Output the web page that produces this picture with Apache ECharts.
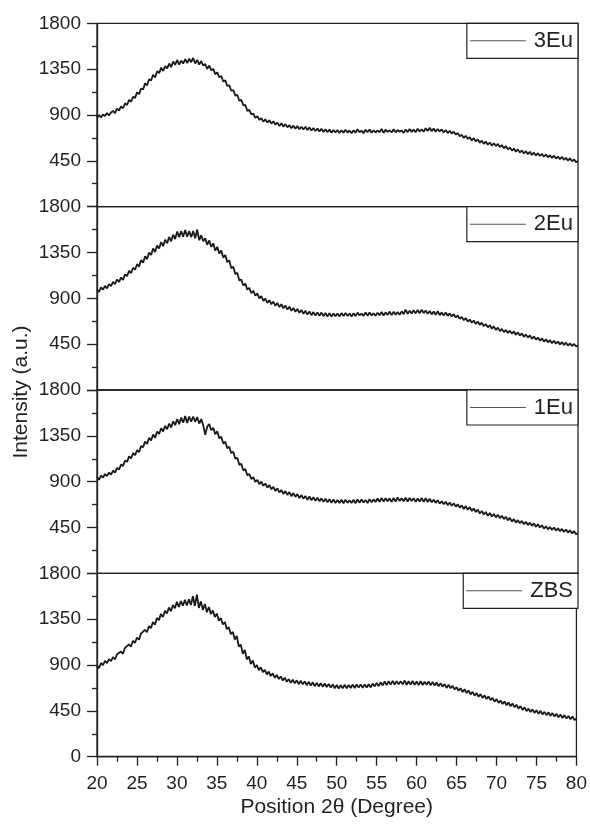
<!DOCTYPE html>
<html>
<head>
<meta charset="utf-8">
<script src="https://cdn.jsdelivr.net/npm/echarts@6/dist/echarts.min.js"></script>
<style>
html,body{margin:0;padding:0;background:#fff;}
#chart{width:590px;height:830px;}
</style>
</head>
<body>
<div id="chart"></div>
<script>
// Sampling grid of the scans (2θ, degrees)
const xStart = 20;
const xStep = 0.25;

// Sample names (top to bottom)
const sampleNames = ['3Eu', '2Eu', '1Eu', 'ZBS'];

// Axis ticks
const yTicks = [0, 450, 900, 1350, 1800];
const xTicks = [20, 25, 30, 35, 40, 45, 50, 55, 60, 65, 70, 75, 80];

// Intensities, one value every 0.25° from 20° to 80°
const int3Eu = [
 872,898,876,905, 890,918,896,925, 940,918,962,944, 985,966,1015,998, 1048,1030,1078,1068,
 1122,1105,1160,1150, 1210,1192,1250,1240, 1295,1268,1330,1310, 1365,1332,1380,1358, 1405,1370,1425,1392,
 1440,1395,1432,1405, 1448,1410,1452,1418, 1460,1405,1440,1395, 1430,1385,1400,1352, 1385,1340,1352,1300,
 1318,1270,1282,1228, 1240,1185,1190,1138, 1145,1090,1098,1040, 1048,995,998,940, 950,905,915,872,
 888,852,868,835, 858,825,848,815, 838,805,825,792, 818,785,810,778, 800,770,795,765,
 792,760,785,758, 784,752,778,748, 772,742,768,738, 765,732,760,730, 758,725,752,728,
 752,722,750,726, 755,728,748,720, 750,725,760,730, 746,720,755,732, 758,726,750,728,
 748,730,762,724, 755,735,750,728, 760,730,752,736, 748,724,758,732, 762,734,756,730,
 765,738,760,735, 770,742,775,740, 768,735,762,738, 758,728,752,722, 745,718,735,708,
 722,690,705,675, 696,665,682,650, 672,640,660,628, 648,616,640,608, 630,600,622,595,
 615,585,605,572, 595,562,580,550, 570,540,562,532, 552,522,545,515, 538,508,530,502,
 525,498,518,490, 512,484,505,478, 500,472,492,466, 488,460,480,452, 475,445,465,436,
 448
];
const int2Eu = [
 990,962,1008,985, 1022,998,1040,1020, 1062,1040,1085,1060, 1105,1080,1135,1118, 1170,1148,1200,1182,
 1235,1212,1275,1250, 1312,1285,1350,1325, 1390,1355,1418,1390, 1452,1412,1475,1440, 1502,1460,1525,1482,
 1555,1500,1560,1505, 1570,1505,1560,1500, 1560,1490,1575,1470, 1520,1460,1490,1425, 1468,1405,1440,1368,
 1405,1340,1370,1300, 1325,1255,1272,1195, 1210,1138,1150,1075, 1085,1025,1045,985, 1002,950,975,925,
 948,900,922,875, 898,855,882,842, 868,826,855,815, 842,802,830,790, 818,778,805,768,
 795,758,786,748, 778,740,772,735, 765,730,762,728, 760,725,756,722, 755,720,752,724,
 752,722,755,726, 756,728,750,722, 754,725,760,732, 750,728,762,730, 760,732,752,728,
 758,735,765,732, 762,738,770,735, 768,740,765,738, 772,745,790,748, 778,750,782,752,
 785,752,788,755, 780,748,776,742, 770,738,775,735, 762,732,760,728, 752,722,745,712,
 732,698,718,685, 706,672,692,660, 682,648,672,638, 662,626,648,615, 636,602,625,590,
 612,578,600,568, 590,560,582,552, 575,542,565,535, 555,522,545,515, 536,502,525,495,
 515,484,506,476, 497,468,490,460, 482,455,476,448, 470,442,465,436, 458,432,452,428,
 440
];
const int1Eu = [
 945,918,960,940, 975,955,990,970, 1008,988,1035,1020, 1068,1055,1108,1095, 1148,1128,1180,1160,
 1210,1190,1250,1238, 1295,1270,1330,1305, 1362,1332,1392,1368, 1425,1392,1448,1415, 1470,1432,1492,1455,
 1515,1465,1530,1478, 1545,1475,1540,1490, 1540,1488,1535,1470, 1515,1455,1360,1440, 1465,1405,1428,1365,
 1395,1325,1342,1275, 1292,1228,1242,1180, 1195,1125,1135,1065, 1075,1010,1025,962, 975,925,945,898,
 918,875,900,860, 882,842,868,825, 850,808,835,795, 818,780,808,770, 798,758,788,750,
 778,740,768,732, 760,722,755,718, 748,712,742,708, 736,702,732,698, 728,692,725,690,
 720,690,722,688, 724,692,718,690, 722,688,726,694, 725,695,720,690, 728,698,726,700,
 735,702,740,705, 738,708,736,702, 740,705,745,710, 736,708,742,705, 740,710,738,702,
 735,704,740,702, 738,700,732,698, 722,692,718,685, 708,678,702,670, 695,664,688,655,
 678,645,668,632, 660,625,650,612, 636,602,625,588, 612,578,602,565, 592,558,582,550,
 575,542,565,532, 556,520,545,508, 532,498,522,492, 515,482,506,474, 498,466,490,458,
 482,450,472,440, 462,432,455,426, 450,420,442,414, 436,406,430,400, 422,392,415,385,
 395
];
const intZBS = [
 895,870,920,900, 940,918,958,938, 978,955,1005,990, 1032,1010,1068,1052, 1102,1080,1138,1118,
 1170,1148,1208,1190, 1245,1222,1282,1262, 1322,1295,1362,1340, 1402,1372,1432,1405, 1465,1428,1490,1458,
 1520,1470,1528,1482, 1540,1485,1545,1490, 1575,1480,1590,1460, 1525,1440,1500,1420, 1470,1400,1435,1372,
 1405,1335,1362,1298, 1322,1252,1272,1202, 1225,1150,1185,1080, 1100,1010,1048,955, 985,910,945,875,
 900,850,878,830, 852,808,835,792, 818,775,802,762, 788,748,775,735, 762,725,755,720,
 750,712,745,710, 740,702,735,698, 730,692,725,690, 722,686,718,684, 715,678,710,672,
 704,670,702,672, 706,672,704,675, 708,674,710,678, 710,676,708,680, 712,680,718,690,
 725,692,730,700, 738,702,742,708, 745,708,740,710, 742,710,748,706, 740,708,745,705,
 738,702,742,704, 736,705,740,700, 735,698,728,692, 722,688,712,675, 706,672,695,660,
 682,648,672,635, 662,625,650,612, 636,600,626,588, 614,578,602,566, 592,555,578,540,
 565,528,552,518, 542,505,532,495, 522,485,510,472, 496,460,485,448, 472,438,465,430,
 456,422,450,415, 440,408,435,402, 428,395,420,388, 414,380,408,375, 400,368,394,360,
 372
];

const seriesValues = [int3Eu, int2Eu, int1Eu, intZBS];

const FONT = '"Liberation Sans", Arial, sans-serif';
const INK = '#231f20';
const gridLeft = 97, gridRight = 12, gridTop0 = 23.3, panelH = 183.35;

const grids = [], xAxes = [], yAxes = [], series = [], legends = [];
sampleNames.forEach((name, i) => {
  const isBottom = i === sampleNames.length - 1;
  const top = gridTop0 + i * panelH;
  grids.push({left: gridLeft, right: gridRight, top: top, height: panelH,
    show: true, borderColor: INK, borderWidth: 1.3, backgroundColor: 'transparent'});
  xAxes.push({
    type: 'value', gridIndex: i, min: xTicks[0], max: xTicks[xTicks.length - 1], interval: 5,
    show: isBottom,
    axisLine: {show: true, lineStyle: {color: INK, width: 1.3}},
    axisTick: {show: true, length: 9, lineStyle: {color: INK, width: 1.3}},
    minorTick: {show: true, splitNumber: 2, length: 5, lineStyle: {color: INK, width: 1.3}},
    splitLine: {show: false},
    axisLabel: {show: true, fontFamily: FONT, fontSize: 19, color: INK, margin: 18,
      formatter: v => xTicks.indexOf(v) >= 0 ? String(v) : ''},
    name: isBottom ? 'Position 2θ (Degree)' : '',
    nameLocation: 'middle', nameGap: 40,
    nameTextStyle: {fontFamily: FONT, fontSize: 21, color: INK}
  });
  yAxes.push({
    type: 'value', gridIndex: i, min: yTicks[0], max: yTicks[yTicks.length - 1], interval: 450,
    axisLine: {show: true, lineStyle: {color: INK, width: 1.3}},
    axisTick: {show: true, length: 10, lineStyle: {color: INK, width: 1.3}},
    minorTick: {show: true, splitNumber: 2, length: 5, lineStyle: {color: INK, width: 1.3}},
    splitLine: {show: false},
    axisLabel: {fontFamily: FONT, fontSize: 19, color: INK, margin: 16,
      showMinLabel: isBottom,
      formatter: v => (v === 0 && !isBottom) ? '' : String(v)}
  });
  const vals = seriesValues[i];
  series.push({
    name: name, type: 'line', xAxisIndex: i, yAxisIndex: i,
    showSymbol: false, symbol: 'none', animation: false,
    lineStyle: {color: '#1a1a1a', width: 1.8},
    itemStyle: {color: '#1a1a1a'},
    data: vals.map((v, k) => [xStart + k * xStep, v])
  });
  legends.push({
    data: [name], right: gridRight, top: top,
    orient: 'horizontal', icon: 'rect',
    itemWidth: 56, itemHeight: 1, itemGap: 0,
    padding: [5, 5, 5, 3],
    borderColor: INK, borderWidth: 1.2, backgroundColor: '#fff', borderRadius: 0,
    selectedMode: false,
    itemStyle: {color: '#555'},
    textStyle: {fontFamily: FONT, fontSize: 22, color: INK, padding: [0, 0, 0, 3], lineHeight: 25}
  });
});

const chart = echarts.init(document.getElementById('chart'), null, {renderer: 'canvas'});
chart.setOption({
  backgroundColor: '#fff',
  animation: false,
  grid: grids,
  xAxis: xAxes,
  yAxis: yAxes,
  legend: legends,
  series: series,
  graphic: [{
    type: 'text', rotation: Math.PI / 2,
    x: 21, y: 392,
    style: {text: 'Intensity (a.u.)', font: '21px "Liberation Sans", Arial, sans-serif', fill: INK,
      align: 'center', verticalAlign: 'middle'}
  }]
});
</script>
</body>
</html>
